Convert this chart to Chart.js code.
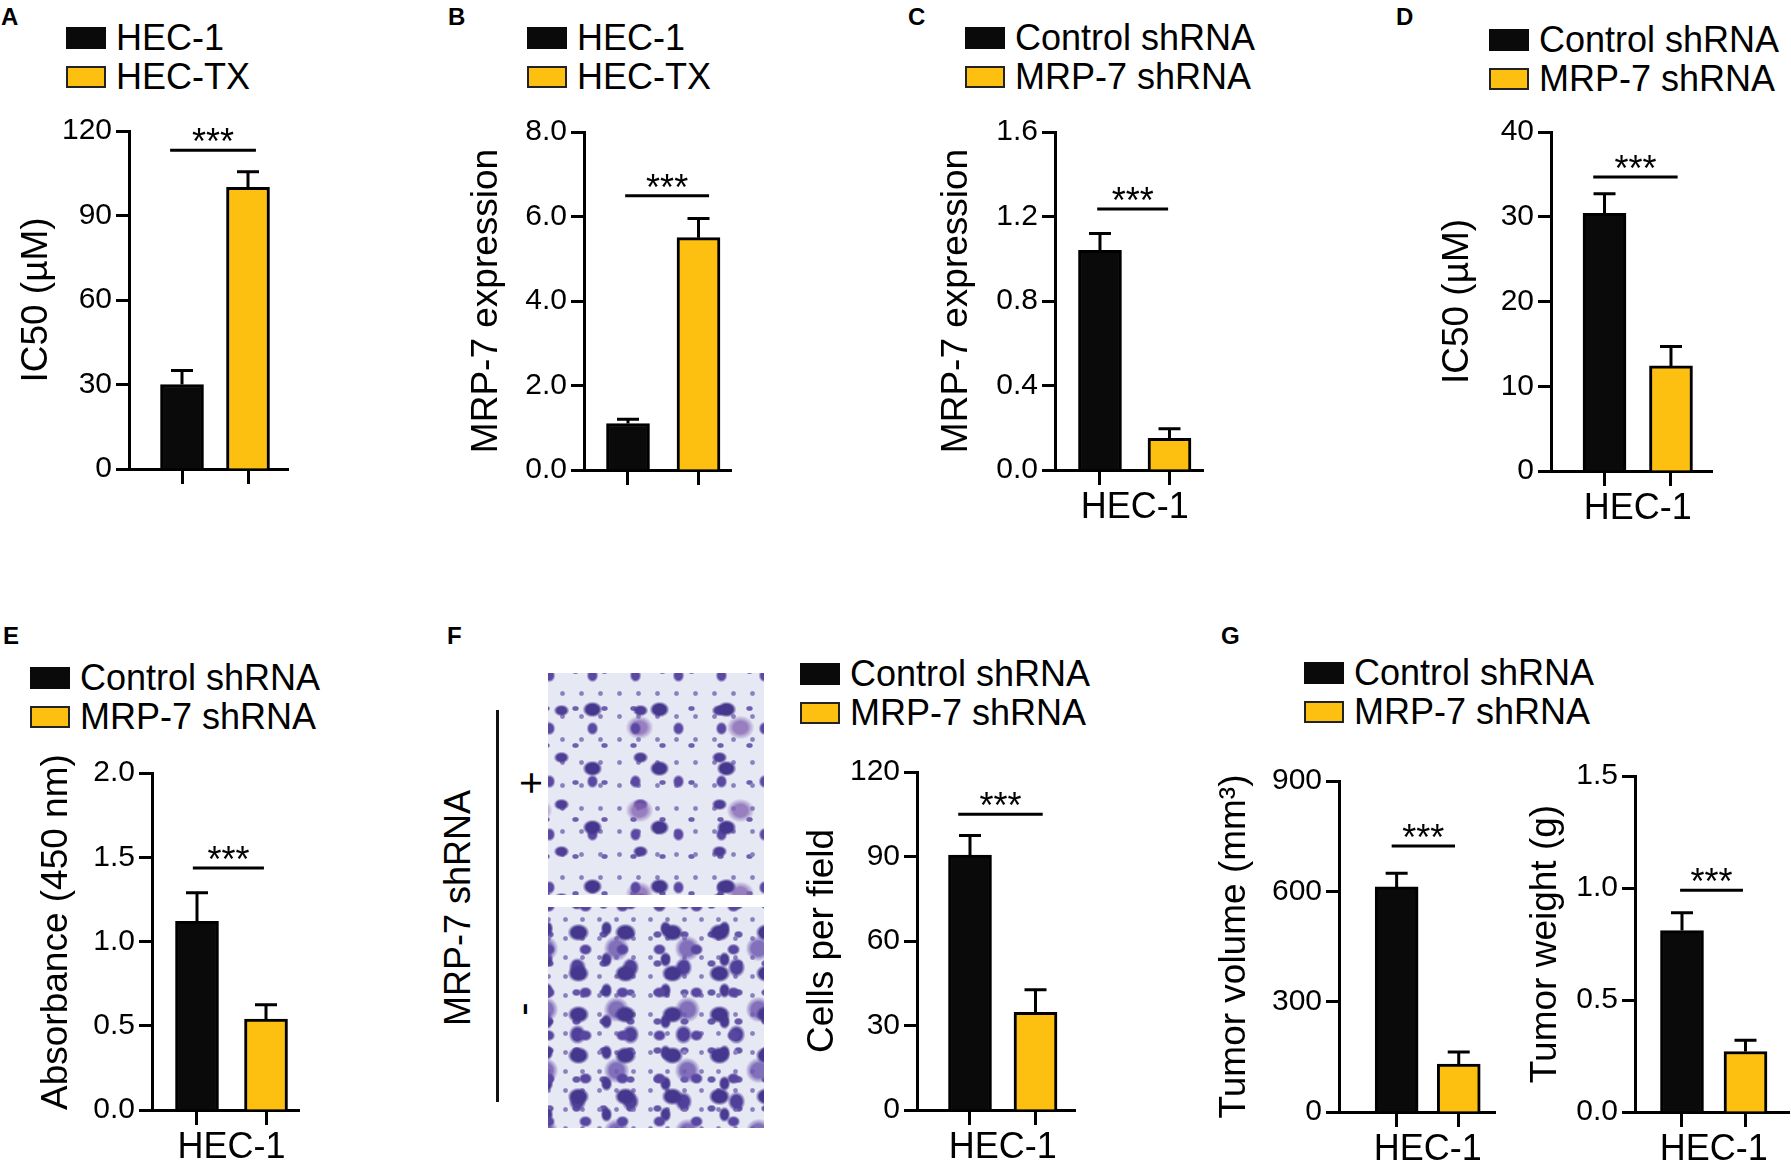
<!DOCTYPE html>
<html>
<head>
<meta charset="utf-8">
<script src="https://cdn.jsdelivr.net/npm/chart.js@4.4.1/dist/chart.umd.min.js"></script>
<style>
  html, body { margin: 0; padding: 0; background: #fff; }
  #fig { position: relative; width: 1791px; height: 1164px; overflow: hidden;
         font-family: "Liberation Sans", Arial, Helvetica, sans-serif; color: #000; }
  #fig canvas { position: absolute; }
  .tag { position: absolute; font-weight: bold; font-size: 24px; line-height: 24px; }
  .leg { position: absolute; height: 22px; display: flex; align-items: center; white-space: nowrap; }
  .leg i { display: block; width: 40px; height: 22px; box-sizing: border-box; flex: none; }
  .leg span { font-size: 36px; line-height: 36px; margin-left: 10px; }
  .rot { position: absolute; white-space: nowrap; line-height: 1;
         transform: translate(-50%, -50%) rotate(-90deg); }
  .micro { position: absolute; left: 548px; width: 216px; background-color: #e6e9f4; }
  #microTop { top: 673px; height: 222px;
    background-image:
      radial-gradient(10px 8px at 50% 50%, #46378e 0 65%, rgba(70,55,142,0) 100%),
      radial-gradient(6px 7px at 50% 50%, #5a48a2 0 60%, rgba(90,72,162,0) 100%),
      radial-gradient(14px 12px at 50% 50%, rgba(132,100,178,.8) 0 50%, rgba(132,100,178,0) 100%),
      radial-gradient(8px 6px at 50% 50%, #4e3e96 0 60%, rgba(78,62,150,0) 100%),
      radial-gradient(3px 3px at 50% 50%, #8a80bd 0 60%, rgba(138,128,189,0) 100%),
      radial-gradient(4px 3px at 50% 50%, #6c5fae 0 60%, rgba(108,95,174,0) 100%);
    background-size: 67px 59px, 43px 53px, 101px 83px, 79px 47px, 19px 23px, 29px 37px;
    background-position: 11px 7px, 23px 29px, 41px 13px, 53px 61px, 5px 9px, 13px 17px; }
  #microBot { top: 907px; height: 221px;
    background-image:
      radial-gradient(11px 9px at 50% 50%, #46378e 0 65%, rgba(70,55,142,0) 100%),
      radial-gradient(7px 6px at 50% 50%, #5846a0 0 60%, rgba(88,70,160,0) 100%),
      radial-gradient(13px 13px at 50% 50%, rgba(112,90,176,.85) 0 55%, rgba(112,90,176,0) 100%),
      radial-gradient(9px 10px at 50% 50%, #51409a 0 60%, rgba(81,64,154,0) 100%),
      radial-gradient(6px 8px at 50% 50%, #4a3b92 0 60%, rgba(74,59,146,0) 100%),
      radial-gradient(3px 3px at 50% 50%, #8a80bd 0 60%, rgba(138,128,189,0) 100%),
      radial-gradient(5px 4px at 50% 50%, #6457a8 0 60%, rgba(100,87,168,0) 100%);
    background-size: 47px 41px, 37px 43px, 71px 61px, 53px 67px, 59px 31px, 17px 19px, 27px 29px;
    background-position: 7px 5px, 19px 21px, 33px 11px, 3px 27px, 29px 37px, 9px 3px, 15px 13px; }
</style>
</head>
<body>
<div id="fig">
  <div class="micro" id="microTop"></div>
  <div class="micro" id="microBot"></div>
</div>
<script>
const BLACK = '#0a0a0a', YELLOW = '#fdc010';
const FONT = '"Liberation Sans", Arial, Helvetica, sans-serif';

// groups
const linesAB = ['HEC-1', 'HEC-TX'];
const shGroups = ['Control shRNA', 'MRP-7 shRNA'];
const cellLine = 'HEC-1';
const signif = '***';

// means and SD (error bar length)
const ic50AB = [30, 100];      const ic50ABErr = [5, 5.5];
const mrpAB = [1.1, 5.5];      const mrpABErr = [0.1, 0.45];
const mrpSh = [1.04, 0.15];    const mrpShErr = [0.08, 0.045];
const ic50Sh = [30.4, 12.4];   const ic50ShErr = [2.3, 2.3];
const absorb = [1.12, 0.54];   const absorbErr = [0.17, 0.085];
const cells = [90.5, 34.7];    const cellsErr = [7, 8];
const tumorVol = [612, 130];   const tumorVolErr = [37, 33];
const tumorWt = [0.81, 0.27];  const tumorWtErr = [0.08, 0.05];

// y tick values
const ticksIC50AB = [0, 30, 60, 90, 120];
const ticksMrpAB = [0, 2, 4, 6, 8];
const ticksMrpSh = [0, 0.4, 0.8, 1.2, 1.6];
const ticksIC50Sh = [0, 10, 20, 30, 40];
const ticksAbs = [0, 0.5, 1, 1.5, 2];
const ticksCells = [0, 30, 60, 90, 120];
const ticksVol = [0, 300, 600, 900];
const ticksWt = [0, 0.5, 1, 1.5];

const fig = document.getElementById('fig');

// panel letters
[['A', 1, 5], ['B', 448, 5], ['C', 908, 5], ['D', 1396, 5],
 ['E', 3, 624], ['F', 447, 624], ['G', 1221, 624]].forEach(([t, x, y]) => {
  const d = document.createElement('div');
  d.className = 'tag'; d.textContent = t;
  d.style.left = x + 'px'; d.style.top = y + 'px';
  fig.appendChild(d);
});

// legends
const legends = [
  { x: 66, y: 27, names: linesAB },
  { x: 527, y: 27, names: linesAB },
  { x: 965, y: 27, names: shGroups },
  { x: 1489, y: 29, names: shGroups },
  { x: 30, y: 667, names: shGroups },
  { x: 800, y: 663, names: shGroups },
  { x: 1304, y: 662, names: shGroups },
];
legends.forEach(l => {
  l.names.forEach((n, i) => {
    const row = document.createElement('div');
    row.className = 'leg';
    row.style.left = l.x + 'px'; row.style.top = (l.y + i * 39) + 'px';
    const box = document.createElement('i');
    box.style.background = i ? YELLOW : BLACK;
    if (i) box.style.border = '2px solid #222';
    const txt = document.createElement('span');
    txt.textContent = n;
    row.appendChild(box); row.appendChild(txt);
    fig.appendChild(row);
  });
});

// panel F side labels
function rotText(text, x, y, size) {
  const d = document.createElement('div');
  d.className = 'rot'; d.textContent = text;
  d.style.left = x + 'px'; d.style.top = y + 'px'; d.style.fontSize = size + 'px';
  fig.appendChild(d);
}
rotText('MRP-7 shRNA', 458, 908, 36);
rotText('+', 531, 783, 40);
rotText('-', 522, 1009, 40);
const vline = document.createElement('div');
vline.style.cssText = 'position:absolute;left:496px;top:710px;width:3px;height:392px;background:#111;';
fig.appendChild(vline);

const panels = [
  { values: ic50AB, errors: ic50ABErr, ticks: ticksIC50AB, dec: 0, title: 'IC50 (µM)', group: null,
    L: 129, T: 131, R: 288, B: 469, titleX: 37, xRange: [0.197, 2.606], sigY: 113.2, sigX: [0.82, 2.12] },
  { values: mrpAB, errors: mrpABErr, ticks: ticksMrpAB, dec: 1, title: 'MRP-7 expression', group: null,
    L: 584, T: 132, R: 731, B: 470, titleX: 487, xRange: [0.376, 2.461], sigY: 6.49, sigX: [0.96, 2.15] },
  { values: mrpSh, errors: mrpShErr, ticks: ticksMrpSh, dec: 1, title: 'MRP-7 expression', group: cellLine,
    L: 1055, T: 132, R: 1203, B: 470, titleX: 957, xRange: [0.353, 2.482], sigY: 1.235, sigX: [0.96, 1.98] },
  { values: ic50Sh, errors: ic50ShErr, ticks: ticksIC50Sh, dec: 0, title: 'IC50 (µM)', group: cellLine,
    L: 1551, T: 132, R: 1712, B: 471, titleX: 1458, xRange: [0.195, 2.617], sigY: 34.7, sigX: [0.83, 2.1] },
  { values: absorb, errors: absorbErr, ticks: ticksAbs, dec: 1, title: 'Absorbance (450 nm)', group: cellLine,
    L: 152, T: 773, R: 299, B: 1110, titleX: 57, xRange: [0.348, 2.478], sigY: 1.436, sigX: [0.94, 1.97], titleAlign: 'start' },
  { values: cells, errors: cellsErr, ticks: ticksCells, dec: 0, title: 'Cells per field', group: cellLine,
    L: 917, T: 772, R: 1075, B: 1110, titleX: 823, xRange: [0.191, 2.603], sigY: 105, sigX: [0.82, 2.11] },
  { values: tumorVol, errors: tumorVolErr, ticks: ticksVol, dec: 0, title: 'Tumor volume (mm³)', group: cellLine,
    L: 1339, T: 781, R: 1495, B: 1112, titleX: 1235, xRange: [0.072, 2.584], sigY: 723, sigX: [0.92, 1.94] },
  { values: tumorWt, errors: tumorWtErr, ticks: ticksWt, dec: 1, title: 'Tumor weight (g)', group: cellLine,
    L: 1635, T: 776, R: 1789, B: 1112, titleX: 1546, xRange: [0.26, 2.685], sigY: 0.99, sigX: [0.97, 1.96] },
];

const PAD_T = 30, PAD_R = 6, PAD_B = 4;

function extrasPlugin(p) {
  return {
    id: 'extras',
    afterDatasetsDraw(chart) {
      const { ctx, scales: { x, y } } = chart;
      ctx.save();
      ctx.strokeStyle = '#000';
      ctx.lineWidth = 3;
      p.values.forEach((v, i) => {
        const cx = x.getPixelForValue(i + 1);
        const y0 = y.getPixelForValue(v);
        const y1 = y.getPixelForValue(v + p.errors[i]);
        ctx.beginPath();
        ctx.moveTo(cx, y0); ctx.lineTo(cx, y1);
        ctx.moveTo(cx - 11, y1); ctx.lineTo(cx + 11, y1);
        ctx.stroke();
      });
      const sy = y.getPixelForValue(p.sigY);
      const sx1 = x.getPixelForValue(p.sigX[0]), sx2 = x.getPixelForValue(p.sigX[1]);
      ctx.beginPath(); ctx.moveTo(sx1, sy); ctx.lineTo(sx2, sy); ctx.stroke();
      ctx.fillStyle = '#000';
      ctx.font = '36px ' + FONT;
      ctx.textAlign = 'center';
      ctx.textBaseline = 'alphabetic';
      ctx.fillText(signif, (sx1 + sx2) / 2, sy + 4);
      ctx.restore();
    }
  };
}

function makeChart(p) {
  const W = p.L - p.titleX + 24;
  const H = p.group ? 60 : 22;
  const w = W + (p.R - p.L) + PAD_R, h = PAD_T + (p.B - p.T) + H + PAD_B;
  const cv = document.createElement('canvas');
  cv.width = w; cv.height = h;
  cv.style.left = (p.L - W) + 'px'; cv.style.top = (p.T - PAD_T) + 'px';
  cv.style.width = w + 'px'; cv.style.height = h + 'px';
  fig.appendChild(cv);
  const xTicks = p.group ? [1, 1.5, 2] : [1, 2];

  new Chart(cv, {
    type: 'bar',
    data: {
      datasets: [{
        data: p.values.map((v, i) => ({ x: i + 1, y: v })),
        backgroundColor: [BLACK, YELLOW],
        borderColor: '#000',
        borderWidth: 3,
        barThickness: 43
      }]
    },
    options: {
      responsive: false,
      animation: false,
      devicePixelRatio: 1,
      layout: { padding: { left: 0, top: PAD_T, right: PAD_R, bottom: PAD_B } },
      plugins: { legend: { display: false }, tooltip: { enabled: false } },
      scales: {
        x: {
          type: 'linear',
          offset: false,
          bounds: 'data',
          min: p.xRange[0], max: p.xRange[1],
          afterBuildTicks: s => { s.ticks = xTicks.map(value => ({ value })); },
          afterFit: s => { s.height = H; },
          ticks: {
            display: !!p.group, autoSkip: false, maxRotation: 0, padding: 5, color: '#000',
            font: { size: 36, family: FONT, lineHeight: 1 },
            callback: v => (v === 1.5 ? p.group : '')
          },
          grid: {
            offset: false,
            drawOnChartArea: false, drawTicks: true, tickLength: 15, tickWidth: 3,
            tickColor: c => (c.tick && c.tick.value === 1.5 ? 'rgba(0,0,0,0)' : '#000')
          },
          border: { display: true, color: '#000', width: 3 }
        },
        y: {
          min: 0, max: p.ticks[p.ticks.length - 1],
          afterBuildTicks: s => { s.ticks = p.ticks.map(value => ({ value })); },
          afterFit: s => { s.width = W; },
          ticks: {
            padding: 4, color: '#000',
            font: { size: 30, family: FONT, lineHeight: 1.2 },
            callback: v => v.toFixed(p.dec)
          },
          grid: { drawOnChartArea: false, tickLength: 13, tickWidth: 3, tickColor: '#000' },
          border: { color: '#000', width: 3 },
          title: {
            display: true, text: p.title, color: '#000', align: p.titleAlign || 'center',
            font: { size: 37, family: FONT, lineHeight: 1 },
            padding: { top: 24 - 18.5, bottom: 0 }
          }
        }
      }
    },
    plugins: [extrasPlugin(p)]
  });
}

panels.forEach(makeChart);
</script>
</body>
</html>
